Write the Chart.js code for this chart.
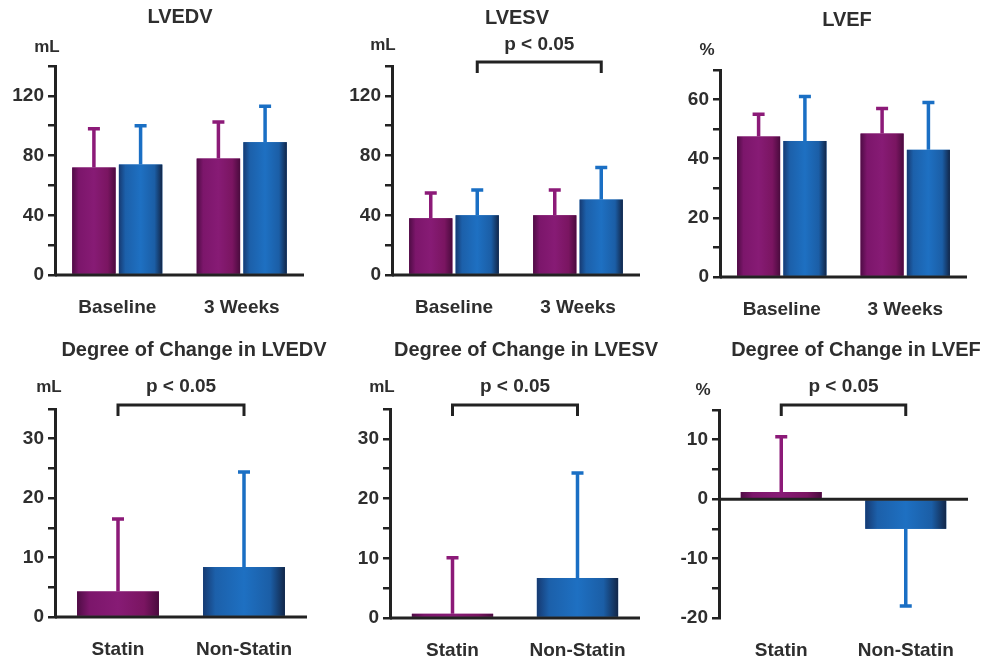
<!DOCTYPE html>
<html>
<head>
<meta charset="utf-8">
<script src="https://cdn.jsdelivr.net/npm/chart.js@4/dist/chart.umd.min.js"></script>
<style>
    html, body { margin: 0; padding: 0; background: #fff; }
    body { width: 988px; height: 665px; position: relative; overflow: hidden; }
    canvas { position: absolute; }
</style>
</head>
<body>
<canvas id="c1"></canvas>
<canvas id="c2"></canvas>
<canvas id="c3"></canvas>
<canvas id="c4"></canvas>
<canvas id="c5"></canvas>
<canvas id="c6"></canvas>
<script>
/* ===========================================
   DADOS
=========================================== */
const topLabels = ["Baseline", "3 Weeks"];
const changeLabels = ["Statin", "Non-Statin"];

const lvedvStatin = [72, 78];
const lvedvStatinSd = [26, 24.5];
const lvedvNonStatin = [74, 89];
const lvedvNonStatinSd = [26, 24];

const lvesvStatin = [38, 40];
const lvesvStatinSd = [17, 17];
const lvesvNonStatin = [40, 50.5];
const lvesvNonStatinSd = [17, 21.5];

const lvefStatin = [47.5, 48.5];
const lvefStatinSd = [7.5, 8.5];
const lvefNonStatin = [46, 43];
const lvefNonStatinSd = [15, 16];

const changeLvedv = [4.3, 8.4];
const changeLvedvSd = [12.2, 16];
const changeLvesv = [0.7, 6.7];
const changeLvesvSd = [9.4, 17.6];
const changeLvef = [1.2, -5];
const changeLvefSd = [9.3, 13];

const volumeTicks = [0, 40, 80, 120];
const efTicks = [0, 20, 40, 60];
const changeTicks = [0, 10, 20, 30];
const efChangeTicks = [-20, -10, 0, 10];

/* ===========================================
   CORES
=========================================== */
const PURPLE_STOPS = ["#4f0c45", "#7c166b", "#871b75", "#7a1561", "#4a0b3e"];
const BLUE_STOPS = ["#163a72", "#1c60aa", "#1e70c2", "#1b5ea6", "#122648"];
const PURPLE_ERR = "#8c1a78";
const BLUE_ERR = "#1a6fc4";
const AXIS = "#222";
const TEXT = "#2e2e2e";
const FONT = '"Liberation Sans", Arial, sans-serif';

/* ===========================================
   PLUGIN: gradiente, barras de erro, textos
=========================================== */
const panelPlugin = {
    id: "panel",
    afterDatasetsDraw(chart) {
        const ctx = chart.ctx;
        const p = chart.options.plugins.panel;
        const area = chart.chartArea;
        const y = chart.scales.y;

        ctx.save();
        chart.data.datasets.forEach((ds, d) => {
            chart.getDatasetMeta(d).data.forEach((el, i) => {
                const kind = ds.kinds[i];
                const stops = kind === "p" ? PURPLE_STOPS : BLUE_STOPS;
                const left = el.x - el.width / 2;
                const right = el.x + el.width / 2;
                const g = ctx.createLinearGradient(left, 0, right, 0);
                g.addColorStop(0, stops[0]);
                g.addColorStop(0.15, stops[1]);
                g.addColorStop(0.5, stops[2]);
                g.addColorStop(0.82, stops[3]);
                g.addColorStop(1, stops[4]);
                ctx.fillStyle = g;
                const top = Math.min(el.y, el.base);
                ctx.fillRect(left, top, el.width, Math.abs(el.base - el.y));

                // barra de erro
                const v = ds.data[i];
                const sd = ds.sd[i];
                const end = y.getPixelForValue(v >= 0 ? v + sd : v - sd);
                ctx.strokeStyle = kind === "p" ? PURPLE_ERR : BLUE_ERR;
                ctx.lineWidth = 3.5;
                ctx.beginPath();
                ctx.moveTo(el.x, el.y);
                ctx.lineTo(el.x, end);
                ctx.moveTo(el.x - 6, end);
                ctx.lineTo(el.x + 6, end);
                ctx.stroke();
            });
        });

        // linha do zero
        const y0 = y.getPixelForValue(0);
        ctx.strokeStyle = AXIS;
        ctx.lineWidth = 3;
        ctx.beginPath();
        ctx.moveTo(area.left, y0);
        ctx.lineTo(area.right, y0);
        ctx.stroke();

        // colchete p < 0.05
        if (p.bracket) {
            const b = p.bracket;
            const xa = chart.getDatasetMeta(b.from[0]).data[b.from[1]].x;
            const xb = chart.getDatasetMeta(b.to[0]).data[b.to[1]].x;
            const by = b.y - p.top;
            ctx.lineWidth = 3;
            ctx.beginPath();
            ctx.moveTo(xa, by + 11);
            ctx.lineTo(xa, by);
            ctx.lineTo(xb, by);
            ctx.lineTo(xb, by + 11);
            ctx.stroke();
            ctx.fillStyle = TEXT;
            ctx.font = "bold 19px " + FONT;
            ctx.textAlign = "center";
            ctx.textBaseline = "middle";
            ctx.fillText("p < 0.05", (xa + xb) / 2, b.textY - p.top);
        }

        // titulo e unidade
        ctx.fillStyle = TEXT;
        ctx.textAlign = "center";
        ctx.textBaseline = "middle";
        ctx.font = "bold 20px " + FONT;
        ctx.fillText(p.title, p.titleX - p.left, p.titleY - p.top);
        ctx.font = "bold 17px " + FONT;
        ctx.fillText(p.unit, p.unitX - p.left, p.unitY - p.top);
        ctx.restore();
    }
};

/* ===========================================
   PAINEIS
=========================================== */
function makePanel(id, cfg) {
    const canvas = document.getElementById(id);
    canvas.width = cfg.cell[2];
    canvas.height = cfg.cell[3];
    canvas.style.left = cfg.cell[0] + "px";
    canvas.style.top = cfg.cell[1] + "px";

    const [cl, ct, cw, ch] = cfg.cell;
    const [L, T, R, B] = cfg.area;

    new Chart(canvas, {
        type: "bar",
        data: { labels: cfg.labels, datasets: cfg.datasets },
        plugins: [panelPlugin],
        options: {
            responsive: false,
            animation: false,
            events: [],
            layout: { padding: { left: 0, top: T - ct, right: cl + cw - R, bottom: 0 } },
            datasets: {
                bar: {
                    categoryPercentage: cfg.catPct,
                    barPercentage: cfg.barPct,
                    borderWidth: 0
                }
            },
            plugins: {
                legend: { display: false },
                tooltip: { enabled: false },
                panel: {
                    left: cl, top: ct,
                    title: cfg.title, titleX: cfg.titleAt[0], titleY: cfg.titleAt[1],
                    unit: cfg.unit, unitX: cfg.unitAt[0], unitY: cfg.unitAt[1],
                    bracket: cfg.bracket
                }
            },
            scales: {
                x: {
                    grid: { display: false, drawTicks: false },
                    border: { display: false },
                    ticks: {
                        color: TEXT,
                        padding: 21,
                        font: { family: FONT, size: 19, weight: "bold" }
                    },
                    afterFit: s => { s.height = ct + ch - B; }
                },
                y: {
                    min: cfg.min,
                    max: cfg.max,
                    border: { display: true, color: AXIS, width: 3 },
                    grid: {
                        display: true,
                        drawOnChartArea: false,
                        drawTicks: true,
                        tickLength: 7,
                        color: AXIS,
                        lineWidth: 2.5
                    },
                    ticks: {
                        stepSize: cfg.step,
                        color: TEXT,
                        padding: 4,
                        font: { family: FONT, size: 19, weight: "bold" },
                        callback: v => cfg.shown.includes(v) ? String(v) : ""
                    },
                    afterFit: s => { s.width = L - cl; }
                }
            }
        }
    });
}

function pair(a, aSd, b, bSd) {
    return [
        { label: "Statin", data: a, sd: aSd, kinds: ["p", "p"], backgroundColor: PURPLE_STOPS[2] },
        { label: "Non-Statin", data: b, sd: bSd, kinds: ["b", "b"], backgroundColor: BLUE_STOPS[2] }
    ];
}

function single(v, sd) {
    return [
        { label: "Change", data: v, sd: sd, kinds: ["p", "b"], backgroundColor: [PURPLE_STOPS[2], BLUE_STOPS[2]] }
    ];
}

makePanel("c1", {
    cell: [0, 0, 330, 330], area: [55, 66, 304, 275],
    labels: topLabels, datasets: pair(lvedvStatin, lvedvStatinSd, lvedvNonStatin, lvedvNonStatinSd),
    min: 0, max: 140, step: 20, shown: volumeTicks,
    catPct: 0.75, barPct: 0.93,
    title: "LVEDV", titleAt: [180, 17], unit: "mL", unitAt: [47, 47]
});

makePanel("c2", {
    cell: [330, 0, 330, 330], area: [392, 66, 640, 275],
    labels: topLabels, datasets: pair(lvesvStatin, lvesvStatinSd, lvesvNonStatin, lvesvNonStatinSd),
    min: 0, max: 140, step: 20, shown: volumeTicks,
    catPct: 0.75, barPct: 0.93,
    title: "LVESV", titleAt: [517, 18], unit: "mL", unitAt: [383, 45],
    bracket: { from: [1, 0], to: [1, 1], y: 62, textY: 45 }
});

makePanel("c3", {
    cell: [660, 0, 328, 330], area: [720, 70, 967, 277],
    labels: topLabels, datasets: pair(lvefStatin, lvefStatinSd, lvefNonStatin, lvefNonStatinSd),
    min: 0, max: 70, step: 10, shown: efTicks,
    catPct: 0.75, barPct: 0.93,
    title: "LVEF", titleAt: [847, 20], unit: "%", unitAt: [707, 50]
});

makePanel("c4", {
    cell: [0, 330, 330, 335], area: [55, 409, 307, 617],
    labels: changeLabels, datasets: single(changeLvedv, changeLvedvSd),
    min: 0, max: 35, step: 5, shown: changeTicks,
    catPct: 0.65, barPct: 1,
    title: "Degree of Change in LVEDV", titleAt: [194, 350], unit: "mL", unitAt: [49, 387],
    bracket: { from: [0, 0], to: [0, 1], y: 405, textY: 387 }
});

makePanel("c5", {
    cell: [330, 330, 330, 335], area: [390, 409, 640, 618],
    labels: changeLabels, datasets: single(changeLvesv, changeLvesvSd),
    min: 0, max: 35, step: 5, shown: changeTicks,
    catPct: 0.65, barPct: 1,
    title: "Degree of Change in LVESV", titleAt: [526, 350], unit: "mL", unitAt: [382, 387],
    bracket: { from: [0, 0], to: [0, 1], y: 405, textY: 387 }
});

makePanel("c6", {
    cell: [660, 330, 328, 335], area: [719, 410, 968, 618],
    labels: changeLabels, datasets: single(changeLvef, changeLvefSd),
    min: -20, max: 15, step: 5, shown: efChangeTicks,
    catPct: 0.65, barPct: 1,
    title: "Degree of Change in LVEF", titleAt: [856, 350], unit: "%", unitAt: [703, 390],
    bracket: { from: [0, 0], to: [0, 1], y: 405, textY: 387 }
});
</script>
</body>
</html>
